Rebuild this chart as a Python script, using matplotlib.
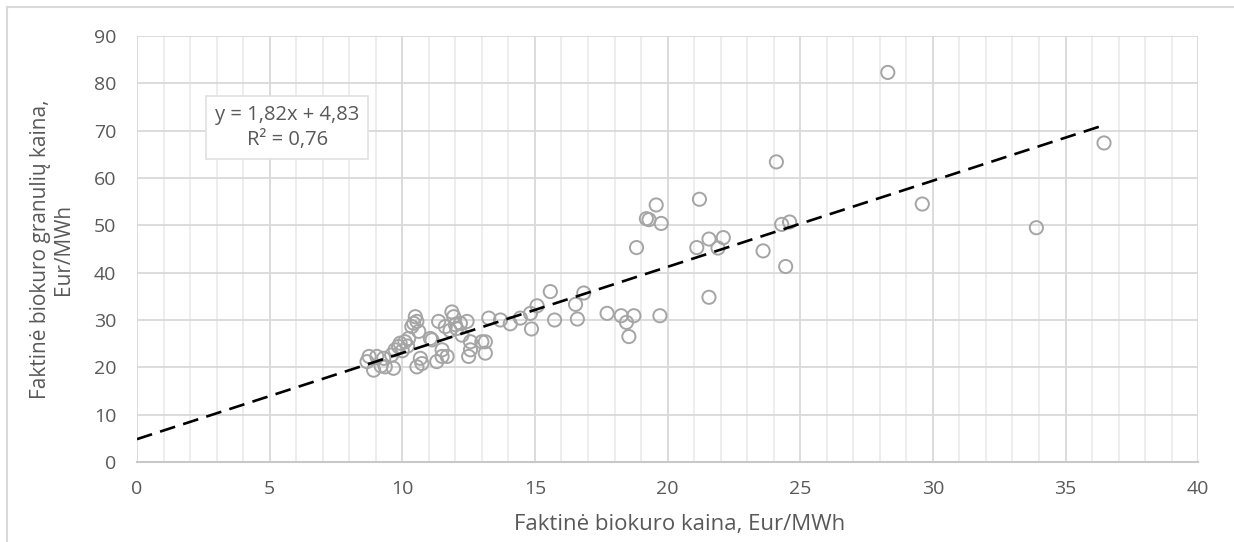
import numpy as np
import matplotlib
matplotlib.use("Agg")
import matplotlib.pyplot as plt
from matplotlib.lines import Line2D
from matplotlib.ticker import MultipleLocator

plt.rcParams["font.family"] = ["Open Sans", "DejaVu Sans"]

# Faktine biokuro kaina (x) ir granuliu kaina (y), Eur/MWh
biokuras = [8.67, 8.75, 9.04, 8.92, 9.36, 9.30, 9.20, 9.67, 9.60, 9.73,
            9.86, 9.92, 10.10, 10.24, 10.20, 10.00, 10.49, 10.43, 10.55, 10.62,
            10.36, 10.68, 10.55, 10.74, 11.06, 11.12, 11.30, 11.50, 11.50, 11.69,
            11.37, 11.62, 11.87, 11.94, 12.00, 12.19, 12.44, 12.25, 12.57, 12.57,
            12.50, 13.00, 13.13, 13.13, 13.26, 13.70, 14.07, 14.45, 14.83, 14.87,
            15.08, 15.58, 15.74, 16.53, 16.84, 16.60, 17.72, 18.25, 18.73, 18.45,
            18.54, 19.71, 18.83, 19.30, 19.20, 19.57, 19.76, 21.10, 21.20, 21.56,
            22.10, 21.90, 23.60, 24.10, 24.30, 24.60, 24.45, 21.56, 28.30, 29.60,
            33.90, 36.45, 11.80, 12.05]
granules = [21.2, 22.3, 22.3, 19.4, 20.1, 21.9, 20.3, 19.8, 22.6, 23.7,
            24.4, 25.1, 25.4, 26.1, 24.5, 23.5, 30.7, 29.3, 29.7, 27.6,
            28.6, 21.9, 20.1, 20.8, 26.1, 25.8, 21.2, 22.3, 23.7, 22.3,
            29.7, 28.6, 31.7, 30.7, 29.0, 29.3, 29.7, 26.8, 25.4, 23.7,
            22.3, 25.4, 23.0, 25.4, 30.4, 30.0, 29.2, 30.4, 31.4, 28.1,
            33.0, 36.0, 30.0, 33.3, 35.7, 30.2, 31.4, 30.9, 30.9, 29.5,
            26.5, 30.9, 45.3, 51.2, 51.4, 54.3, 50.4, 45.3, 55.5, 47.1,
            47.4, 45.2, 44.6, 63.4, 50.2, 50.7, 41.3, 34.8, 82.3, 54.5,
            49.5, 67.4, 27.8, 28.2]

slope = 1.82
intercept = 4.83
r2 = 0.76

fig = plt.figure(figsize=(12.34, 5.42), dpi=100)
ax = fig.add_axes([0.111, 0.1476, 0.860, 0.786])

ax.scatter(biokuras, granules, s=90, facecolors="none", edgecolors="#a5a5a5",
           linewidths=1.4, zorder=3)

xl = np.array([0, max(biokuras)])
ax.plot(xl, slope * xl + intercept, color="black", lw=1.9, dashes=(6, 3.2), zorder=4)

ax.set_xlim(0, 40)
ax.set_ylim(0, 90)
ax.xaxis.set_major_locator(MultipleLocator(5))
ax.xaxis.set_minor_locator(MultipleLocator(1))
ax.yaxis.set_major_locator(MultipleLocator(10))
ax.grid(which="major", color="#d9d9d9", lw=1.3, zorder=0)
ax.grid(which="minor", axis="x", color="#ececec", lw=1.3, zorder=0)
ax.set_axisbelow(True)
for s in ax.spines.values():
    s.set_visible(False)
ax.spines["bottom"].set_visible(True)
ax.spines["bottom"].set_color("#c8c8c8")
ax.spines["bottom"].set_linewidth(1.5)

ax.tick_params(which="both", length=0, labelsize=14, colors="#595959")
ax.tick_params(axis="x", pad=13)
ax.tick_params(axis="y", pad=15)

ax.set_xlabel("Faktinė biokuro kaina, Eur/MWh", fontsize=16, color="#595959")
ax.xaxis.set_label_coords(0.511, -0.122)
ax.set_ylabel("Faktinė biokuro granulių kaina,\nEur/MWh", fontsize=15, color="#595959",
              labelpad=14, linespacing=1.15)

eq = "y = {:.2f}x + {:.2f}\nR² = {:.2f}".format(slope, intercept, r2).replace(".", ",")
ax.text(5.66, 70.7, eq, ha="center", va="center", fontsize=14.5, color="#595959",
        linespacing=1.3, zorder=5,
        bbox=dict(boxstyle="square,pad=0.45", fc="white", ec="#e0e0e0", lw=1.2))

# outer chart frame
fig.add_artist(Line2D([0.006, 1.0], [0.987, 0.987], color="#d9d9d9", lw=1.5))
fig.add_artist(Line2D([0.006, 0.006], [0.0, 0.987], color="#d9d9d9", lw=1.5))

fig.savefig("out.png", dpi=100)
